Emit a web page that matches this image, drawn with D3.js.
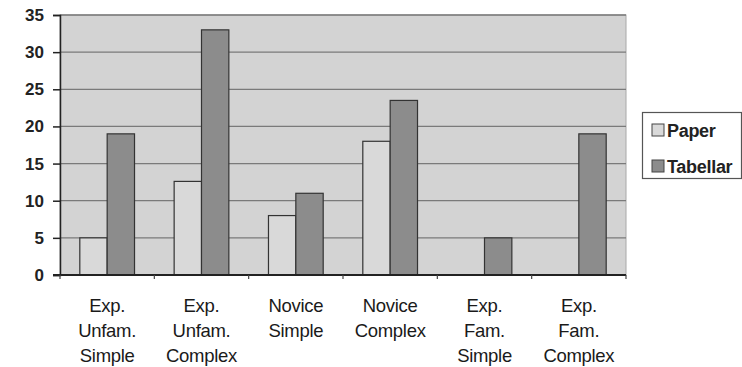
<!DOCTYPE html>
<html><head><meta charset="utf-8">
<script src="https://cdn.jsdelivr.net/npm/d3@7"></script>
<style>body{margin:0;background:#fff}svg{display:block}</style>
</head><body>
<svg id="chart" width="742" height="367"></svg>
<script>
const categories = [
  ["Exp.","Unfam.","Simple"],
  ["Exp.","Unfam.","Complex"],
  ["Novice","Simple"],
  ["Novice","Complex"],
  ["Exp.","Fam.","Simple"],
  ["Exp.","Fam.","Complex"]
];
const seriesNames = ["Paper","Tabellar"];
const paperValues = [5, 12.6, 8, 18, 0, 0];
const tabellarValues = [19, 33, 11, 23.5, 5, 19];
const yTicks = [0,5,10,15,20,25,30,35];
const colors = ["#d9d9d9","#8c8c8c"];

const svg = d3.select("#chart");
const pL = 60, pR = 626, pT = 15, pB = 275;
const font = "Arial, 'Liberation Sans', sans-serif";

const x = d3.scaleBand().domain(d3.range(categories.length)).range([pL,pR]).paddingInner(0).paddingOuter(0);
const y = d3.scaleLinear().domain([0,35]).range([pB,pT]);
const bw = x.bandwidth();
const barW = bw*0.29;
const xs = d3.scaleBand().domain([0,1]).range([0, barW*2]);

// plot area
svg.append("rect").attr("x",pL).attr("y",pT).attr("width",pR-pL).attr("height",pB-pT)
  .attr("fill","#d3d3d3").attr("stroke","#a8a8a8").attr("stroke-width",1);

// gridlines
svg.append("g").selectAll("line").data(yTicks.filter(d=>d>0)).join("line")
  .attr("x1",pL).attr("x2",pR).attr("y1",d=>y(d)).attr("y2",d=>y(d))
  .attr("stroke","#7a7a7a").attr("stroke-width",1.3);

// bars
const data = [paperValues, tabellarValues];
const groupOffset = (bw - barW*2)/2;
data.forEach((vals,si)=>{
  svg.append("g").selectAll("rect").data(vals.map((v,i)=>({v,i})).filter(d=>d.v>0)).join("rect")
    .attr("x",d=>x(d.i)+groupOffset+xs(si))
    .attr("y",d=>y(d.v))
    .attr("width",barW)
    .attr("height",d=>y(0)-y(d.v))
    .attr("fill",colors[si]).attr("stroke","#333").attr("stroke-width",1.2);
});

// y axis
const yAxis = d3.axisLeft(y).tickValues(yTicks).tickSize(7).tickPadding(9);
const gy = svg.append("g").attr("transform",`translate(${pL},0)`).call(yAxis);
gy.select(".domain").attr("stroke","#222").attr("stroke-width",1.5);
gy.selectAll(".tick line").attr("stroke","#222").attr("stroke-width",1.5);
gy.selectAll("text").attr("font-family",font).attr("font-size",17).attr("font-weight","bold").attr("fill","#222");

// x axis line + ticks
const gx = svg.append("g");
gx.append("line").attr("x1",pL-7).attr("x2",pR).attr("y1",pB).attr("y2",pB).attr("stroke","#222").attr("stroke-width",1.8);
gx.selectAll("line.t").data(d3.range(categories.length+1)).join("line").attr("class","t")
  .attr("x1",i=>pL+i*bw).attr("x2",i=>pL+i*bw).attr("y1",pB).attr("y2",pB+4)
  .attr("stroke","#444").attr("stroke-width",1.2);

// x labels
categories.forEach((lines,i)=>{
  const t = svg.append("text").attr("text-anchor","middle").attr("font-family",font)
    .attr("font-size",18.5).attr("fill","#1a1a1a").attr("letter-spacing",-0.3);
  lines.forEach((ln,j)=>{
    t.append("tspan").attr("x",x(i)+bw/2).attr("y",312+j*25).text(ln);
  });
});

// legend
const lg = svg.append("g");
lg.append("rect").attr("x",642.5).attr("y",112.5).attr("width",99).attr("height",66)
  .attr("fill","#fff").attr("stroke","#555").attr("stroke-width",1.2);
seriesNames.forEach((n,i)=>{
  const base = 137 + i*36;
  lg.append("rect").attr("x",652).attr("y",base-13).attr("width",12).attr("height",12)
    .attr("fill",colors[i]).attr("stroke","#444").attr("stroke-width",1);
  lg.append("text").attr("x",667).attr("y",base).attr("font-family",font).attr("font-size",18)
    .attr("font-weight","bold").attr("letter-spacing",-0.3).attr("fill","#222").text(n);
});
</script>
</body></html>
